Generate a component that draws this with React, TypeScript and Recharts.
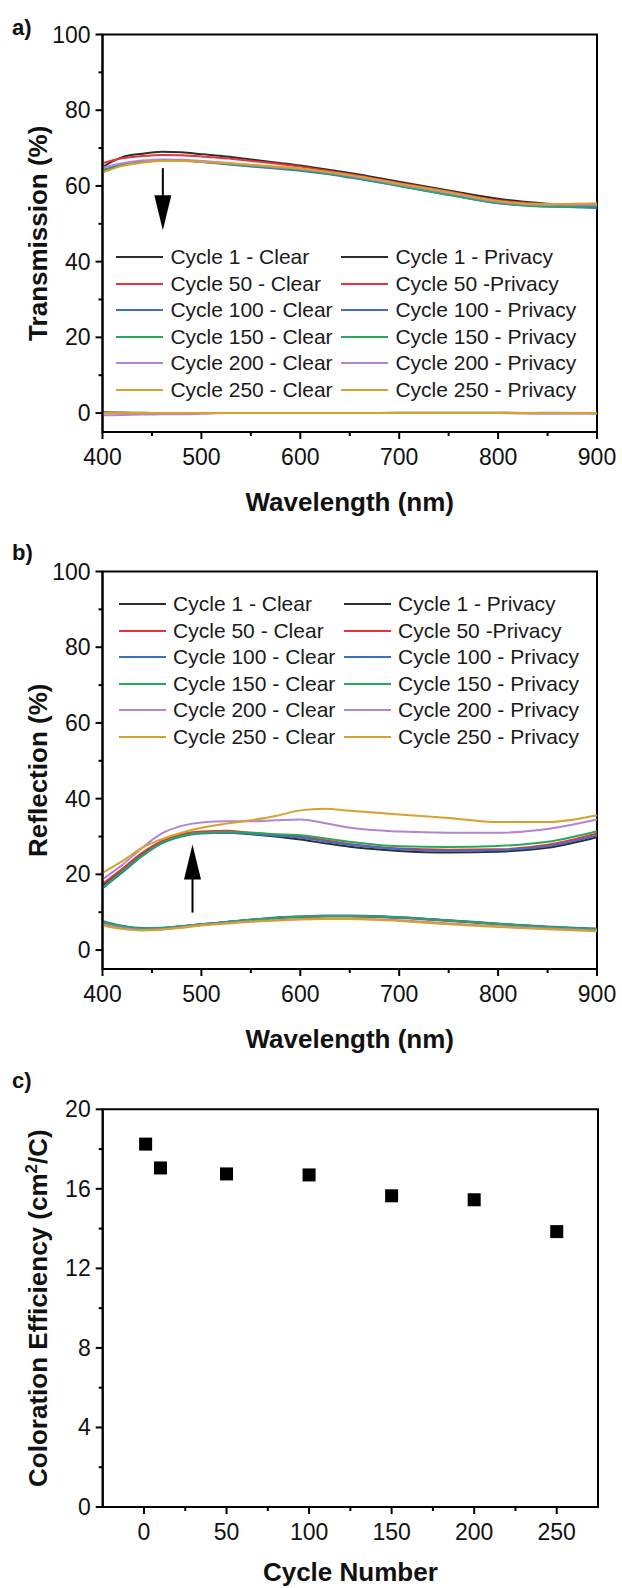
import {
  LineChart,
  Line,
  ScatterChart,
  Scatter,
  XAxis,
  YAxis,
  Legend,
  ReferenceArea,
  ReferenceLine,
  ReferenceDot,
} from "recharts";

const FONT = "'Liberation Sans', Arial, sans-serif";
const INK = "#111";

// wavelength grid shared by panels a) and b)
const wavelengths = [400, 420, 440, 460, 480, 500, 525, 550, 575, 600, 625, 650, 700, 750, 800, 850, 900];

const cycles = [1, 50, 100, 150, 200, 250];
const seriesColors = ["#2d2d2d", "#e8333a", "#3b6fc9", "#2aa65a", "#b184d6", "#d9a02a"];
const clearNames = [
  "Cycle 1 - Clear",
  "Cycle 50 - Clear",
  "Cycle 100 - Clear",
  "Cycle 150 - Clear",
  "Cycle 200 - Clear",
  "Cycle 250 - Clear",
];
const privacyNames = [
  "Cycle 1 - Privacy",
  "Cycle 50 -Privacy",
  "Cycle 100 - Privacy",
  "Cycle 150 - Privacy",
  "Cycle 200 - Privacy",
  "Cycle 250 - Privacy",
];

// a) transmission, clear state
const transClear1 = [65.0, 67.6, 68.5, 69.0, 68.9, 68.4, 67.8, 67.0, 66.2, 65.4, 64.4, 63.4, 61.1, 58.8, 56.6, 55.3, 54.4];
const transClear50 = [66.0, 67.3, 67.9, 68.2, 68.1, 67.8, 67.3, 66.6, 65.9, 65.1, 64.1, 63.1, 60.8, 58.5, 56.2, 55.2, 54.8];
const transClear100 = [64.2, 65.6, 66.3, 66.7, 66.7, 66.3, 65.7, 65.1, 64.6, 64.0, 63.2, 62.2, 60.0, 57.7, 55.4, 54.6, 54.2];
const transClear150 = [64.0, 65.5, 66.3, 66.7, 66.7, 66.4, 65.9, 65.3, 64.8, 64.2, 63.4, 62.4, 60.0, 57.6, 55.5, 54.5, 54.6];
const transClear200 = [64.8, 66.0, 66.7, 67.0, 66.9, 66.6, 66.1, 65.5, 65.0, 64.5, 63.7, 62.7, 60.4, 58.1, 55.8, 55.0, 55.0];
const transClear250 = [63.5, 65.3, 66.1, 66.6, 66.6, 66.4, 66.0, 65.6, 65.1, 64.6, 63.8, 62.9, 60.6, 58.4, 56.0, 55.2, 55.4];

// a) transmission, privacy state
const transPriv1 = [0.2, 0.1, 0.1, 0, 0, 0, 0, 0, 0, 0, 0, 0, 0.1, 0.1, 0.1, 0, 0];
const transPriv50 = [0.1, 0.1, 0, 0, 0, 0, 0, 0, 0, 0, 0, 0, 0, 0, 0, 0, 0];
const transPriv100 = [0, 0, 0, 0, 0, 0, 0, 0, 0, 0, 0, 0, 0, 0, 0, 0, -0.1];
const transPriv150 = [0, 0.1, 0, 0, 0, 0, 0, 0, 0, 0, 0, 0, 0, 0, 0, 0.1, 0];
const transPriv200 = [-0.6, -0.5, -0.4, -0.3, -0.3, -0.2, 0, 0, 0, 0, 0, 0, 0, 0, 0, -0.2, -0.1];
const transPriv250 = [0, 0, 0, 0, 0, 0, 0, 0, 0, 0, 0, 0, 0, 0, 0, 0, 0];

// b) reflection, clear state
const reflClear1 = [17.0, 21.0, 25.3, 28.5, 30.3, 31.0, 31.0, 30.6, 30.0, 29.2, 28.2, 27.3, 26.2, 25.8, 26.0, 27.0, 29.8];
const reflClear50 = [17.5, 21.5, 25.7, 28.8, 30.6, 31.3, 31.5, 31.0, 30.5, 30.0, 29.0, 28.0, 26.8, 26.5, 26.6, 27.8, 30.8];
const reflClear100 = [16.3, 20.5, 24.8, 28.2, 30.0, 30.8, 31.0, 30.7, 30.2, 29.7, 28.7, 27.8, 26.6, 26.2, 26.4, 27.4, 30.3];
const reflClear150 = [16.5, 20.8, 25.0, 28.3, 30.2, 31.0, 31.2, 31.0, 30.6, 30.3, 29.5, 28.6, 27.4, 27.2, 27.5, 28.6, 31.4];
const reflClear200 = [18.7, 22.5, 27.0, 30.8, 32.8, 33.7, 34.0, 34.0, 34.3, 34.5, 33.5, 32.3, 31.3, 31.0, 31.0, 32.0, 34.5];
const reflClear250 = [20.4, 23.5, 27.0, 29.3, 31.0, 32.3, 33.4, 34.3, 35.4, 36.9, 37.3, 36.8, 35.8, 34.9, 33.8, 33.8, 35.6];

// b) reflection, privacy state
const reflPriv1 = [7.4, 6.2, 5.7, 5.8, 6.3, 6.8, 7.4, 8.0, 8.5, 8.8, 9.0, 9.0, 8.6, 7.8, 6.9, 6.1, 5.6];
const reflPriv50 = [7.3, 6.1, 5.6, 5.7, 6.2, 6.7, 7.3, 7.9, 8.4, 8.7, 8.9, 8.9, 8.5, 7.7, 6.8, 6.0, 5.5];
const reflPriv100 = [7.7, 6.4, 5.8, 5.9, 6.3, 6.8, 7.4, 8.0, 8.6, 8.9, 9.1, 9.1, 8.7, 7.9, 7.0, 6.2, 5.6];
const reflPriv150 = [7.5, 6.3, 5.7, 5.8, 6.3, 6.8, 7.4, 8.0, 8.5, 8.8, 9.0, 9.0, 8.6, 7.8, 6.9, 6.1, 5.5];
const reflPriv200 = [6.8, 5.8, 5.3, 5.5, 6.0, 6.6, 7.1, 7.6, 7.9, 8.2, 8.3, 8.3, 7.9, 7.0, 6.3, 5.7, 5.2];
const reflPriv250 = [6.5, 5.6, 5.2, 5.4, 5.9, 6.5, 7.0, 7.5, 7.8, 8.1, 8.2, 8.2, 7.7, 6.8, 6.1, 5.5, 5.0];

// c) coloration efficiency
const ceCycles = [1, 10, 50, 100, 150, 200, 250];
const ceValues = [18.25, 17.05, 16.75, 16.7, 15.65, 15.45, 13.85];

// axis ticks (majors get labels)
const wlTicks = [400, 450, 500, 550, 600, 650, 700, 750, 800, 850, 900];
const pctTicks = [0, 10, 20, 30, 40, 50, 60, 70, 80, 90, 100];
const cycleTicks = [0, 25, 50, 75, 100, 125, 150, 175, 200, 225, 250];
const ceTicks = [0, 2, 4, 6, 8, 10, 12, 14, 16, 18, 20];

// arrows: [wavelength, start value, tip value]
const transArrow = [461, 64.7, 48.3];
const reflArrow = [491, 9.9, 27.9];

function buildRows(clear: number[][], priv: number[][]) {
  return wavelengths.map((w, i) => {
    const row: Record<string, number> = { w };
    cycles.forEach((_, k) => {
      row[`c${k}`] = clear[k][i];
      row[`p${k}`] = priv[k][i];
    });
    return row;
  });
}

const transData = buildRows(
  [transClear1, transClear50, transClear100, transClear150, transClear200, transClear250],
  [transPriv1, transPriv50, transPriv100, transPriv150, transPriv200, transPriv250]
);
const reflData = buildRows(
  [reflClear1, reflClear50, reflClear100, reflClear150, reflClear200, reflClear250],
  [reflPriv1, reflPriv50, reflPriv100, reflPriv150, reflPriv200, reflPriv250]
);
const ceData = ceCycles.map((c, i) => ({ cycle: c, ce: ceValues[i] }));

const makeXTick = (step: number) => (props: any) => {
  const { x, y, payload } = props;
  const v = payload.value;
  const major = Math.abs(v % step) < 1e-6;
  return (
    <g>
      <line x1={x} x2={x} y1={y} y2={y + (major ? 7 : 4)} stroke="#000" strokeWidth={2} />
      {major && (
        <text x={x} y={y + 33} textAnchor="middle" fontSize={23} fill={INK} fontFamily={FONT}>
          {v}
        </text>
      )}
    </g>
  );
};

const makeYTick = (step: number) => (props: any) => {
  const { x, y, payload } = props;
  const v = payload.value;
  const major = Math.abs(v % step) < 1e-6;
  return (
    <g>
      <line x1={x} x2={x - (major ? 7 : 4)} y1={y} y2={y} stroke="#000" strokeWidth={2} />
      {major && (
        <text x={x - 12} y={y + 8} textAnchor="end" fontSize={23} fill={INK} fontFamily={FONT}>
          {v}
        </text>
      )}
    </g>
  );
};

const xTitle = (title: string, dy: number) => (props: any) => {
  const vb = props.viewBox || {};
  return (
    <text
      x={vb.x + vb.width / 2}
      y={vb.y + dy}
      textAnchor="middle"
      fontSize={26}
      fontWeight="bold"
      fill={INK}
      fontFamily={FONT}
    >
      {title}
    </text>
  );
};

const yTitle = (title: React.ReactNode, letter: string, letterY: number) => (props: any) => {
  const vb = props.viewBox || {};
  const cy = vb.y + vb.height / 2;
  return (
    <g fontFamily={FONT} fill={INK}>
      <text x={12} y={letterY} fontSize={22} fontWeight="bold">
        {letter}
      </text>
      <text
        x={47}
        y={cy}
        transform={`rotate(-90 47 ${cy})`}
        textAnchor="middle"
        fontSize={26}
        fontWeight="bold"
      >
        {title}
      </text>
    </g>
  );
};

function SpectrumLegend() {
  const item = (name: string, color: string) => (
    <div key={name} style={{ display: "flex", alignItems: "center", height: 26.5 }}>
      <div style={{ width: 47, height: 2, background: color, marginRight: 7 }} />
      <span style={{ fontSize: 21, color: "#1a1a1a", whiteSpace: "nowrap" }}>{name}</span>
    </div>
  );
  return (
    <div style={{ display: "grid", gridTemplateColumns: "225px auto", fontFamily: FONT }}>
      {cycles.map((_, k) => [
        item(clearNames[k], seriesColors[k]),
        item(privacyNames[k], seriesColors[k]),
      ])}
    </div>
  );
}

const arrowHead = (down: boolean) => (p: any) => {
  const { cx, cy } = p;
  const b = down ? cy - 35 : cy + 35;
  return <path d={`M${cx},${cy} L${cx - 8.5},${b} L${cx + 8.5},${b} Z`} fill="#000" />;
};

function SpectrumPanel(props: {
  data: Record<string, number>[];
  title: string;
  letter: string;
  letterY: number;
  legendTop: number;
  legendLeft: number;
  arrow: number[];
  down: boolean;
}) {
  const { data, title, letter, letterY, legendTop, legendLeft, arrow, down } = props;
  const [ax, a0, a1] = arrow;
  return (
    <LineChart width={622} height={520} data={data} margin={{ top: 34.5, right: 25, bottom: 0, left: 0 }}>
      <XAxis
        dataKey="w"
        type="number"
        domain={[400, 900]}
        ticks={wlTicks}
        interval={0}
        tickSize={0}
        tickMargin={0}
        tickLine={false}
        tick={makeXTick(100)}
        height={88}
        axisLine={{ stroke: "#000", strokeWidth: 2 }}
        label={xTitle("Wavelength (nm)", 79)}
      />
      <YAxis
        type="number"
        domain={[-5, 100]}
        ticks={pctTicks}
        interval={0}
        tickSize={0}
        tickMargin={0}
        tickLine={false}
        tick={makeYTick(20)}
        width={102.5}
        axisLine={{ stroke: "#000", strokeWidth: 2 }}
        label={yTitle(title, letter, letterY)}
      />
      <ReferenceArea x1={400} x2={900} y1={-5} y2={100} fill="none" stroke="#000" strokeWidth={2} />
      {cycles.map((_, k) => [
        <Line
          key={`c${k}`}
          dataKey={`c${k}`}
          name={clearNames[k]}
          type="monotone"
          stroke={seriesColors[k]}
          strokeWidth={2}
          dot={false}
          isAnimationActive={false}
        />,
        <Line
          key={`p${k}`}
          dataKey={`p${k}`}
          name={privacyNames[k]}
          type="monotone"
          stroke={seriesColors[k]}
          strokeWidth={2}
          dot={false}
          isAnimationActive={false}
        />,
      ])}
      <ReferenceLine
        segment={[
          { x: ax, y: a0 },
          { x: ax, y: a1 + (down ? 3 : -3) },
        ]}
        stroke="#000"
        strokeWidth={2}
      />
      <ReferenceDot x={ax} y={a1} shape={arrowHead(down)} />
      <Legend
        layout="horizontal"
        verticalAlign="middle"
        content={() => <SpectrumLegend />}
        wrapperStyle={{ top: legendTop, left: legendLeft, width: "auto", height: "auto" }}
      />
    </LineChart>
  );
}

function EfficiencyPanel() {
  return (
    <ScatterChart width={622} height={531} margin={{ top: 52.3, right: 24, bottom: 0, left: 0 }}>
      <XAxis
        dataKey="cycle"
        type="number"
        domain={[-25, 275]}
        ticks={cycleTicks}
        interval={0}
        tickSize={0}
        tickMargin={0}
        tickLine={false}
        tick={makeXTick(50)}
        height={81}
        axisLine={{ stroke: "#000", strokeWidth: 2 }}
        label={xTitle("Cycle Number", 74)}
      />
      <YAxis
        dataKey="ce"
        type="number"
        domain={[0, 20]}
        ticks={ceTicks}
        interval={0}
        tickSize={0}
        tickMargin={0}
        tickLine={false}
        tick={makeYTick(4)}
        width={102.7}
        axisLine={{ stroke: "#000", strokeWidth: 2 }}
        label={yTitle(
          <>
            Coloration Efficiency (cm
            <tspan dy={-10} fontSize={17}>
              2
            </tspan>
            <tspan dy={10}>/C)</tspan>
          </>,
          "c)",
          31.3
        )}
      />
      <ReferenceArea x1={-25} x2={275} y1={0} y2={20} fill="none" stroke="#000" strokeWidth={2} />
      <Scatter
        data={ceData}
        fill="#000"
        isAnimationActive={false}
        shape={(p: any) => <rect x={p.cx - 6.5} y={p.cy - 6.5} width={13} height={13} fill="#000" />}
      />
    </ScatterChart>
  );
}

export default function App() {
  return (
    <div
      style={{
        position: "absolute",
        left: 0,
        top: 0,
        width: 622,
        height: 1588,
        background: "#fff",
        fontFamily: FONT,
      }}
    >
      <div style={{ position: "absolute", left: 0, top: 0 }}>
        <SpectrumPanel
          data={transData}
          title="Transmission (%)"
          letter="a)"
          letterY={35}
          legendTop={243.8}
          legendLeft={116.4}
          arrow={transArrow}
          down={true}
        />
      </div>
      <div style={{ position: "absolute", left: 0, top: 537.2 }}>
        <SpectrumPanel
          data={reflData}
          title="Reflection (%)"
          letter="b)"
          letterY={22.8}
          legendTop={53.9}
          legendLeft={119.1}
          arrow={reflArrow}
          down={false}
        />
      </div>
      <div style={{ position: "absolute", left: 0, top: 1057 }}>
        <EfficiencyPanel />
      </div>
    </div>
  );
}
